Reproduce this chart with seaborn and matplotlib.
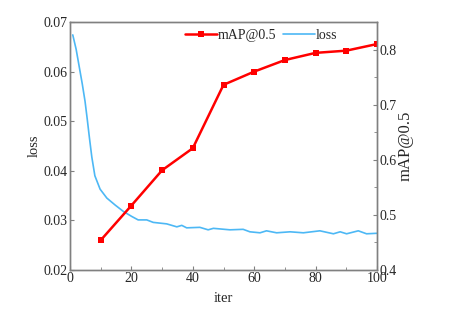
import matplotlib
matplotlib.use("Agg")
import matplotlib.pyplot as plt
import seaborn as sns
import pandas as pd
from matplotlib.ticker import MultipleLocator

map_iter = [10, 20, 30, 40, 50, 60, 70, 80, 90, 100]
map_vals = [0.454, 0.517, 0.581, 0.621, 0.736, 0.760, 0.781, 0.794, 0.798, 0.810]

loss_iter = [0.9, 2.0, 3.0, 4.0, 4.9, 5.6, 6.3, 7.1, 8.1, 9.8, 12, 14.7, 17.4, 20.1,
             22.2, 25, 27.1, 31.5, 34.8, 36.4, 38, 42.3, 45, 46.7, 52.1, 56.4, 58.6,
             61.9, 64, 67.3, 71.7, 76, 81.4, 85.8, 88, 90.1, 93.9, 96.6, 99.9]
loss_vals = [0.0674, 0.0645, 0.0610, 0.0575, 0.0540, 0.0505, 0.0468, 0.0428, 0.0390,
             0.0363, 0.0345, 0.0331, 0.0318, 0.0308, 0.0301, 0.0301, 0.0296, 0.0293,
             0.0287, 0.0290, 0.0285, 0.0286, 0.0281, 0.0284, 0.0281, 0.0282, 0.0277,
             0.0275, 0.0279, 0.0275, 0.0277, 0.0275, 0.0279, 0.0273, 0.0277, 0.0273,
             0.0279, 0.0273, 0.0274]

sns.set_style("ticks")
plt.rcParams['font.family'] = ['Liberation Serif', 'DejaVu Serif']
plt.rcParams['font.size'] = 9.5

df_map = pd.DataFrame({"iter": map_iter, "map": map_vals})
df_loss = pd.DataFrame({"iter": loss_iter, "loss": loss_vals})

fig = plt.figure(figsize=(4.57, 3.18), dpi=100)
ax = fig.add_subplot(111)
fig.subplots_adjust(left=70/457, right=377/457, top=1-22/318, bottom=1-270/318)
ax2 = ax.twinx()

blue = "#4DB8F5"
red = "#FF0000"
sns.lineplot(data=df_loss, x="iter", y="loss", ax=ax, color=blue, linewidth=1.2,
             legend=False)
sns.lineplot(data=df_map, x="iter", y="map", ax=ax2, color=red, linewidth=1.8,
             marker="s", markersize=4.5, markeredgewidth=0, legend=False)

ax.set_xlim(0, 100)
ax.set_ylim(0.02, 0.07)
ax2.set_ylim(0.4, 0.85)
ax.set_xticks([0, 20, 40, 60, 80, 100])
ax.xaxis.set_minor_locator(MultipleLocator(10))
ax.set_yticks([0.02, 0.03, 0.04, 0.05, 0.06, 0.07])
ax.set_yticklabels(["0.02", "0.03", "0.04", "0.05", "0.06", "0.07"])
ax2.set_yticks([0.4, 0.5, 0.6, 0.7, 0.8])
ax2.set_yticklabels(["0.4", "0.5", "0.6", "0.7", "0.8"])
ax2.yaxis.set_minor_locator(MultipleLocator(0.05))

ax.set_xlabel("iter", fontsize=10.5, labelpad=5)
ax.set_ylabel("loss", fontsize=10.5, labelpad=2)
ax2.set_ylabel("mAP@0.5", fontsize=12, labelpad=1)

spine_c = "#808080"
for a in (ax, ax2):
    for s in a.spines.values():
        s.set_color(spine_c)
        s.set_linewidth(1.0)
    a.tick_params(which="both", direction="in", color=spine_c, labelsize=10, pad=1.5)
    a.tick_params(which="major", length=3)
    a.tick_params(which="minor", length=2)
ax.tick_params(axis="y", which="both", right=False)
ax2.tick_params(axis="x", which="both", top=False)

h1 = ax2.get_lines()[0]
h2 = ax.get_lines()[0]
ax2.legend([h1, h2], ["mAP@0.5", "loss"], ncol=2, frameon=False,
           loc="upper right", bbox_to_anchor=(0.893, 1.0), fontsize=10,
           handlelength=2.3, handletextpad=0.05, columnspacing=0.5,
           borderaxespad=0.1)

fig.savefig("out.png", dpi=100)
